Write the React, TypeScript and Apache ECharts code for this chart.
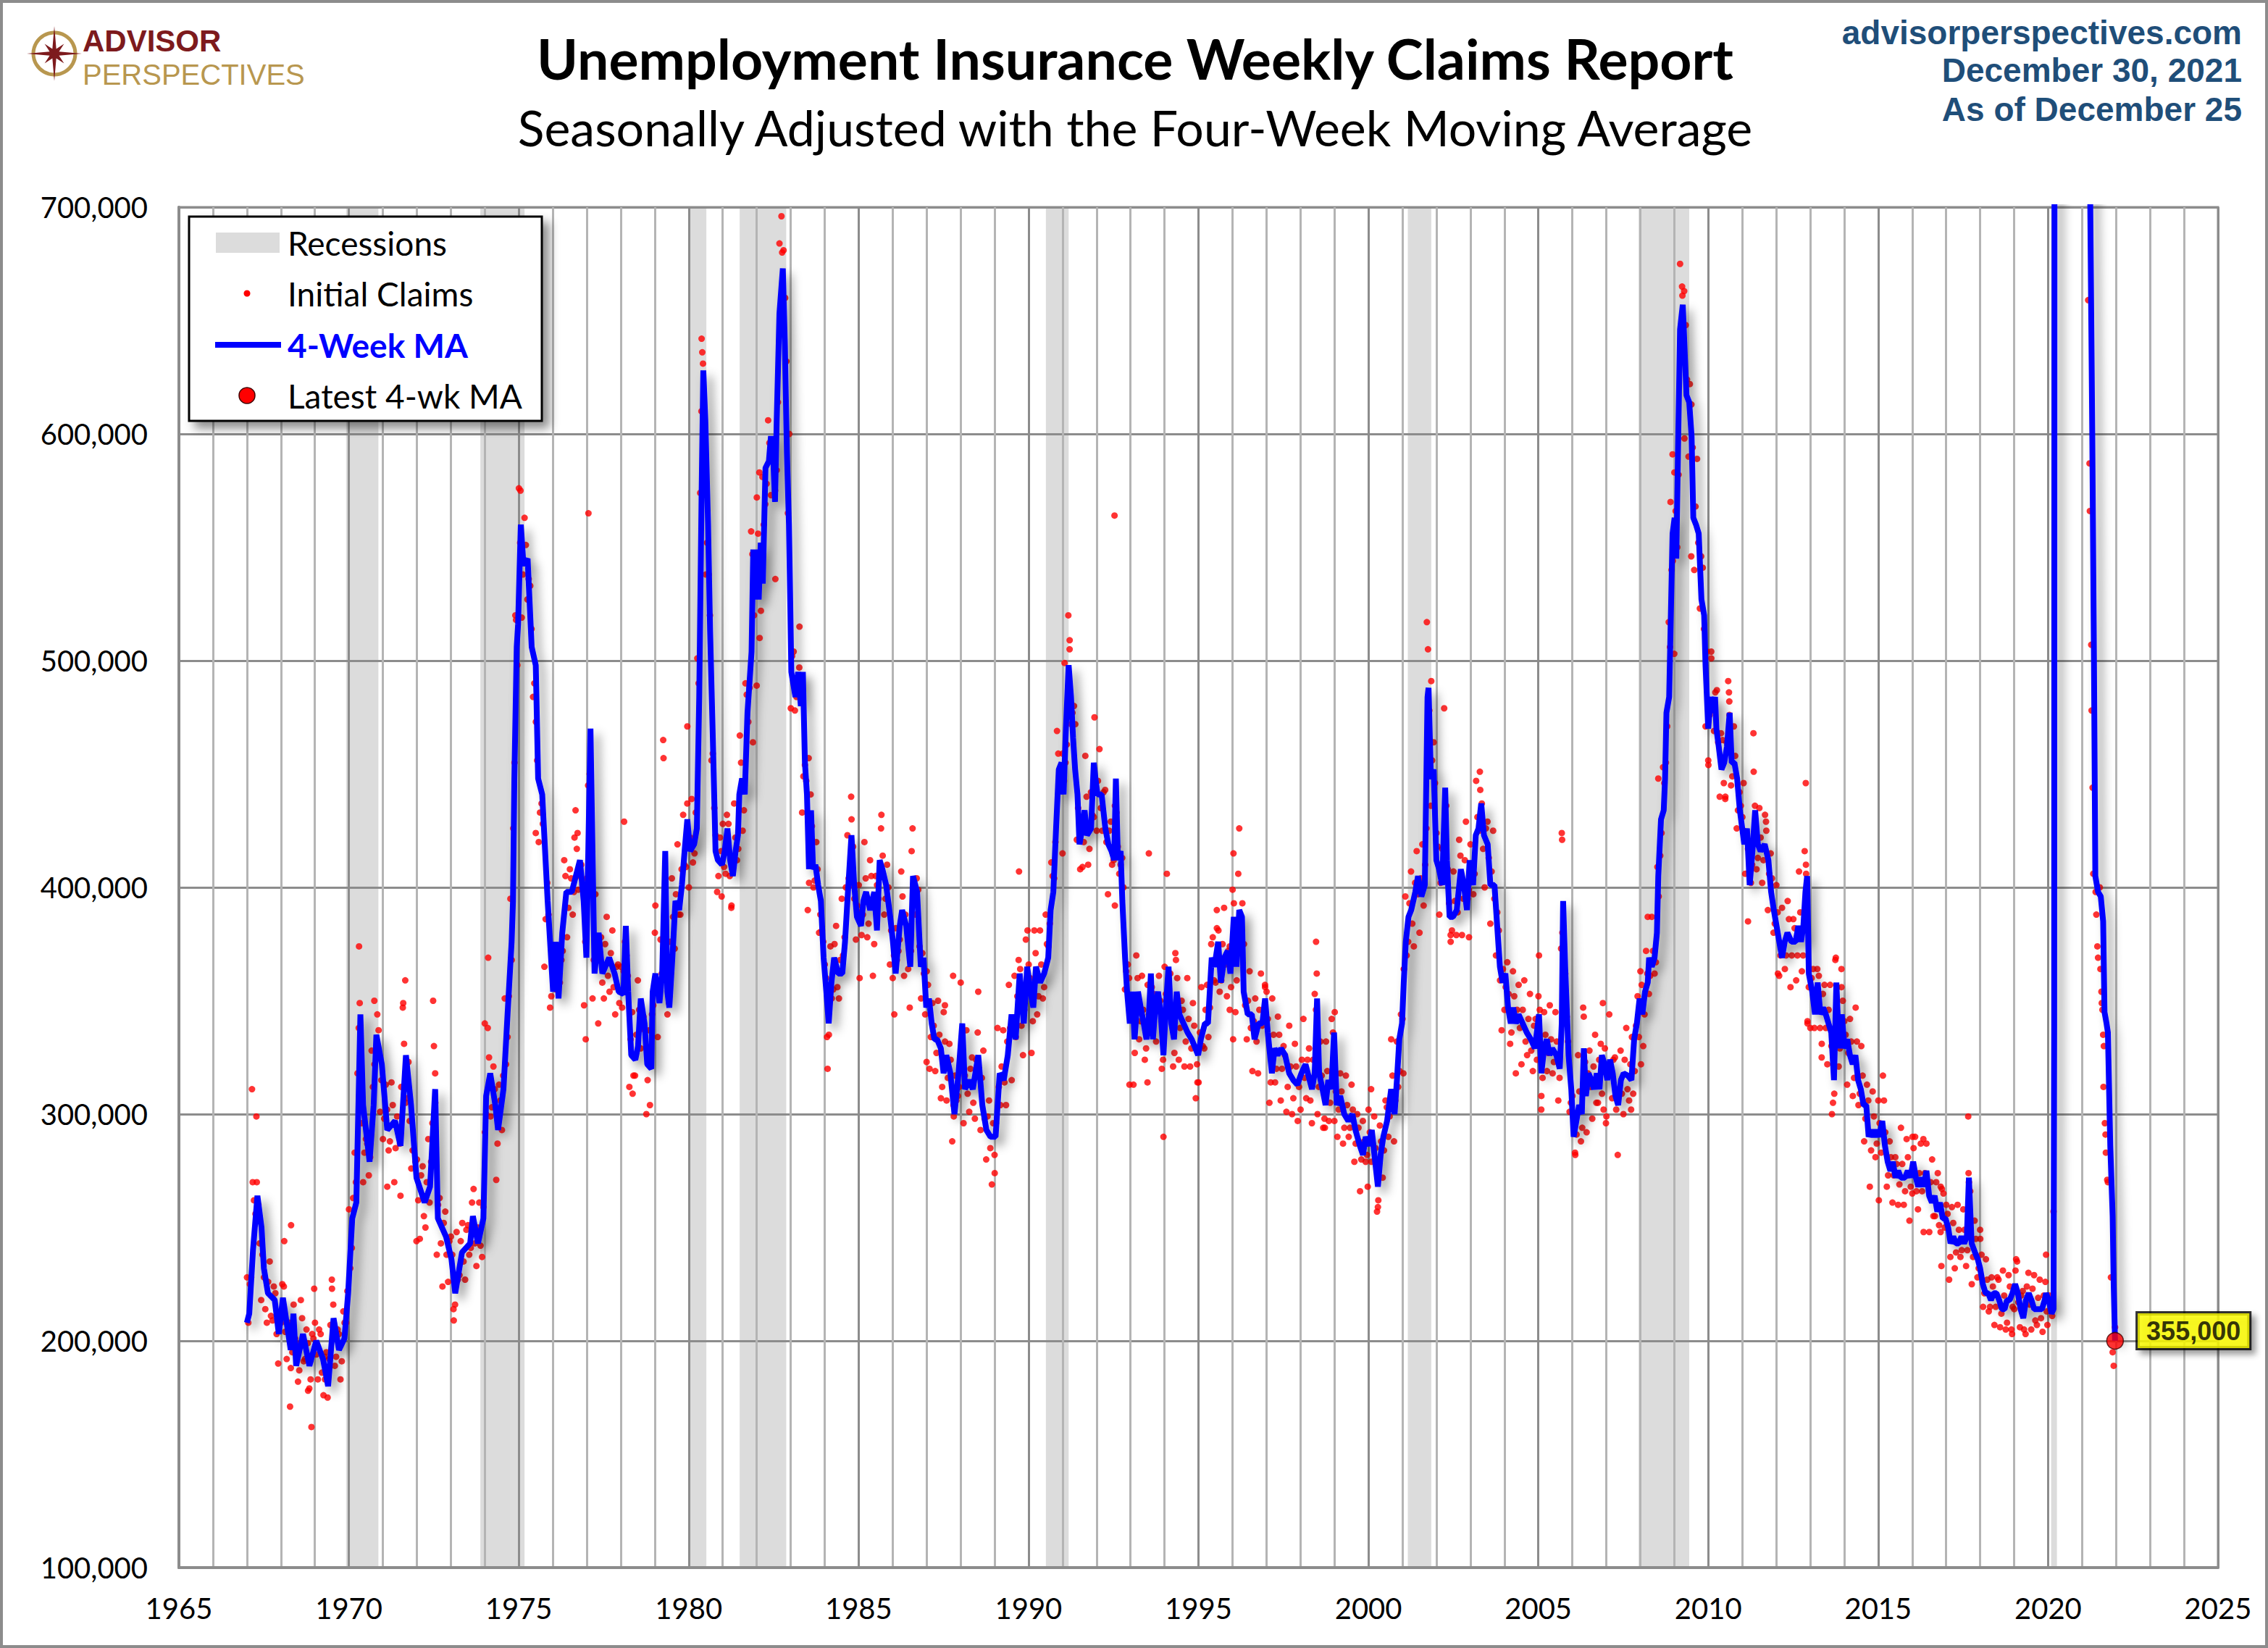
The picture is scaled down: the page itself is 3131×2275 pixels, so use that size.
import React, { useEffect, useRef } from "react";
import * as echarts from "echarts";

const W = 3131;
const H = 2275;

// axes (values in thousands)
const X_MIN = 1965;
const X_MAX = 2025;
const X_STEP = 5;
const Y_MIN = 100;
const Y_MAX = 700;
const Y_STEP = 100;

const TITLE = "Unemployment Insurance Weekly Claims Report";
const SUBTITLE = "Seasonally Adjusted with the Four-Week Moving Average";
const SOURCE_LINES = ["advisorperspectives.com", "December 30, 2021", "As of December 25"];
const LEGEND_LABELS = ["Recessions", "Initial Claims", "4-Week MA", "Latest 4-wk MA"];
const LATEST_LABEL = "355,000";

const RECESSIONS: [number, number][] = [
  [1969.92, 1970.87], [1973.87, 1975.17], [1980.0, 1980.52], [1981.5, 1982.87],
  [1990.51, 1991.18], [2001.16, 2001.85], [2007.95, 2009.44], [2020.09, 2020.26],
];

// 4-week moving average, [decimal year, thousands]
const MA_1960S: [number, number][] = [
  [1967.0, 208], [1967.07, 212], [1967.18, 240], [1967.31, 264], [1967.43, 250], [1967.5, 232], [1967.62, 221],
  [1967.82, 218], [1967.94, 203], [1968.06, 219], [1968.29, 196], [1968.37, 212], [1968.45, 189], [1968.65, 203],
  [1968.84, 189], [1969.04, 200], [1969.24, 192], [1969.39, 180], [1969.55, 210], [1969.71, 196], [1969.87, 201],
  [1969.98, 221],
];
const MA_1970S: [number, number][] = [
  [1970.1, 254], [1970.22, 261], [1970.34, 344], [1970.42, 304], [1970.61, 279], [1970.73, 304], [1970.81, 335],
  [1970.97, 322], [1971.13, 293], [1971.36, 297], [1971.52, 286], [1971.68, 326], [1971.83, 304], [1971.99, 272],
  [1972.23, 261], [1972.39, 268], [1972.54, 311], [1972.62, 254], [1972.86, 246], [1973.02, 236], [1973.13, 221],
  [1973.33, 239], [1973.57, 243], [1973.65, 255], [1973.8, 243], [1973.96, 254], [1974.04, 308], [1974.16, 318],
  [1974.31, 304], [1974.39, 293], [1974.55, 311], [1974.67, 344], [1974.79, 376], [1974.83, 394], [1974.87, 448],
  [1974.94, 506], [1974.98, 516], [1975.06, 560], [1975.14, 542], [1975.26, 545], [1975.38, 506], [1975.5, 498],
  [1975.57, 448], [1975.69, 441], [1975.85, 394], [1976.01, 354], [1976.09, 376], [1976.17, 351], [1976.28, 380],
  [1976.4, 398], [1976.56, 398], [1976.8, 412], [1976.91, 394], [1976.99, 369], [1977.11, 470], [1977.23, 362],
  [1977.35, 380], [1977.46, 362], [1977.66, 369], [1977.82, 362], [1977.94, 354], [1978.08, 353], [1978.15, 383],
  [1978.22, 354], [1978.31, 326], [1978.43, 324], [1978.51, 330], [1978.59, 351], [1978.7, 340], [1978.78, 322],
  [1978.9, 320], [1978.94, 354], [1979.02, 362], [1979.14, 349], [1979.22, 362], [1979.31, 416], [1979.37, 354],
  [1979.43, 347], [1979.52, 369], [1979.61, 394], [1979.72, 390], [1979.8, 401], [1979.88, 416], [1979.96, 430],
];
const MA_1980S: [number, number][] = [
  [1980.04, 416], [1980.16, 419], [1980.24, 426], [1980.31, 484], [1980.38, 574], [1980.43, 628], [1980.49, 606],
  [1980.57, 560], [1980.63, 513], [1980.71, 466], [1980.79, 416], [1980.86, 412], [1980.98, 410], [1981.06, 416],
  [1981.14, 426], [1981.22, 412], [1981.3, 405], [1981.38, 416], [1981.45, 423], [1981.49, 441], [1981.57, 448],
  [1981.65, 441], [1981.73, 477], [1981.81, 495], [1981.85, 504], [1981.9, 549], [1981.95, 527], [1982.0, 549],
  [1982.06, 527], [1982.12, 552], [1982.18, 534], [1982.26, 585], [1982.36, 588], [1982.42, 599], [1982.48, 592],
  [1982.54, 570], [1982.59, 606], [1982.67, 653], [1982.77, 673], [1982.83, 639], [1982.89, 592], [1982.95, 560],
  [1982.99, 524], [1983.02, 495], [1983.14, 484], [1983.22, 495], [1983.3, 480], [1983.36, 495], [1983.42, 455],
  [1983.48, 441], [1983.54, 408], [1983.6, 434], [1983.66, 408], [1983.73, 410], [1983.81, 401], [1983.89, 394],
  [1983.97, 369], [1984.05, 354], [1984.12, 340], [1984.2, 358], [1984.28, 369], [1984.4, 362], [1984.52, 362],
  [1984.6, 376], [1984.67, 394], [1984.79, 423], [1984.87, 401], [1984.95, 387], [1985.07, 383], [1985.14, 394],
  [1985.22, 398], [1985.34, 390], [1985.46, 398], [1985.54, 381], [1985.62, 412], [1985.7, 408], [1985.81, 401],
  [1985.93, 387], [1986.01, 376], [1986.09, 362], [1986.21, 383], [1986.28, 390], [1986.4, 383], [1986.52, 365],
  [1986.6, 405], [1986.72, 398], [1986.83, 365], [1986.91, 369], [1986.99, 347], [1987.07, 351], [1987.15, 340],
  [1987.23, 333], [1987.31, 333], [1987.42, 329], [1987.5, 318], [1987.58, 326], [1987.7, 318], [1987.82, 300],
  [1987.94, 318], [1988.05, 340], [1988.13, 311], [1988.25, 315], [1988.36, 311], [1988.52, 326], [1988.64, 304],
  [1988.76, 293], [1988.88, 290], [1989.03, 290], [1989.15, 318], [1989.27, 315], [1989.39, 326], [1989.5, 344],
  [1989.62, 333], [1989.74, 362], [1989.86, 340], [1989.96, 365],
];
const MA_1990S: [number, number][] = [
  [1990.06, 354], [1990.14, 347], [1990.22, 365], [1990.34, 358], [1990.46, 362], [1990.58, 369], [1990.65, 390],
  [1990.73, 398], [1990.81, 426], [1990.89, 452], [1990.97, 455], [1991.03, 441], [1991.1, 470], [1991.18, 498],
  [1991.25, 484], [1991.31, 466], [1991.37, 452], [1991.44, 441], [1991.5, 419], [1991.58, 426], [1991.65, 434],
  [1991.72, 423], [1991.84, 426], [1991.92, 455], [1991.97, 448], [1992.03, 441], [1992.15, 441], [1992.26, 426],
  [1992.35, 419], [1992.44, 416], [1992.52, 412], [1992.57, 448], [1992.63, 412], [1992.71, 416], [1992.76, 394],
  [1992.84, 369], [1992.9, 354], [1992.98, 340], [1993.06, 354], [1993.12, 333], [1993.22, 354], [1993.3, 347],
  [1993.39, 340], [1993.47, 333], [1993.53, 340], [1993.6, 362], [1993.66, 333], [1993.73, 347], [1993.81, 354],
  [1993.89, 344], [1993.97, 326], [1994.04, 347], [1994.12, 365], [1994.2, 340], [1994.28, 333], [1994.36, 354],
  [1994.44, 344], [1994.56, 340], [1994.68, 336], [1994.8, 333], [1994.91, 329], [1994.99, 326], [1995.07, 333],
  [1995.19, 340], [1995.28, 340], [1995.39, 369], [1995.47, 365], [1995.58, 376], [1995.66, 358], [1995.76, 369],
  [1995.86, 372], [1995.94, 362], [1996.04, 387], [1996.12, 365], [1996.2, 390], [1996.28, 387], [1996.33, 354],
  [1996.45, 344], [1996.57, 344], [1996.65, 333], [1996.77, 340], [1996.88, 340], [1996.96, 351], [1997.04, 336],
  [1997.16, 318], [1997.24, 329], [1997.33, 326], [1997.43, 329], [1997.55, 326], [1997.67, 318], [1997.79, 315],
  [1997.91, 313], [1998.03, 318], [1998.15, 322], [1998.27, 315], [1998.34, 311], [1998.42, 318], [1998.49, 351],
  [1998.55, 318], [1998.65, 311], [1998.74, 304], [1998.82, 315], [1998.91, 311], [1998.99, 336], [1999.07, 304],
  [1999.17, 308], [1999.29, 300], [1999.41, 297], [1999.53, 300], [1999.62, 293], [1999.75, 286], [1999.84, 282],
  [1999.92, 290],
];
const MA_2000S: [number, number][] = [
  [2000.02, 286], [2000.1, 293], [2000.2, 279], [2000.28, 268], [2000.36, 282], [2000.44, 290], [2000.55, 297],
  [2000.67, 311], [2000.77, 300], [2000.84, 315], [2000.91, 333], [2000.99, 340], [2001.04, 358], [2001.1, 376],
  [2001.18, 387], [2001.26, 390], [2001.38, 398], [2001.46, 405], [2001.56, 396], [2001.66, 401], [2001.74, 484],
  [2001.77, 488], [2001.84, 448], [2001.92, 452], [2002.0, 412], [2002.08, 408], [2002.17, 401], [2002.26, 444],
  [2002.31, 412], [2002.39, 387], [2002.49, 387], [2002.6, 390], [2002.72, 408], [2002.81, 401], [2002.9, 390],
  [2002.98, 412], [2003.08, 401], [2003.16, 423], [2003.24, 426], [2003.32, 437], [2003.4, 423], [2003.51, 419],
  [2003.59, 401], [2003.71, 401], [2003.79, 383], [2003.87, 365], [2003.95, 358], [2004.03, 362], [2004.11, 347],
  [2004.19, 340], [2004.26, 347], [2004.34, 340], [2004.42, 344], [2004.54, 340], [2004.66, 336], [2004.78, 333],
  [2004.9, 329], [2005.02, 344], [2005.09, 318], [2005.17, 329], [2005.25, 333], [2005.33, 326], [2005.41, 329],
  [2005.53, 326], [2005.63, 320], [2005.69, 340], [2005.73, 394], [2005.79, 365], [2005.89, 326], [2005.97, 311],
  [2006.04, 290], [2006.12, 297], [2006.2, 304], [2006.28, 300], [2006.34, 329], [2006.4, 308], [2006.48, 318],
  [2006.56, 315], [2006.64, 311], [2006.72, 318], [2006.8, 311], [2006.87, 326], [2006.95, 322], [2007.03, 315],
  [2007.11, 324], [2007.19, 318], [2007.27, 308], [2007.35, 304], [2007.43, 315], [2007.51, 318], [2007.63, 317],
  [2007.74, 315], [2007.82, 333], [2007.9, 340], [2007.98, 351], [2008.06, 344], [2008.14, 354], [2008.22, 358],
  [2008.26, 369], [2008.34, 365], [2008.42, 369], [2008.49, 380], [2008.53, 405], [2008.61, 430], [2008.69, 434],
  [2008.73, 448], [2008.77, 477], [2008.85, 484], [2008.89, 513], [2008.95, 556], [2009.01, 563], [2009.06, 545],
  [2009.11, 592], [2009.17, 646], [2009.25, 657], [2009.3, 639], [2009.36, 617], [2009.44, 614], [2009.51, 599],
  [2009.56, 563], [2009.64, 560], [2009.72, 556], [2009.8, 527], [2009.88, 520], [2009.92, 498],
];
const MA_2010S: [number, number][] = [
  [2010.0, 470], [2010.07, 484], [2010.14, 477], [2010.2, 484], [2010.24, 470], [2010.31, 462], [2010.39, 452],
  [2010.47, 455], [2010.55, 462], [2010.63, 477], [2010.69, 455], [2010.77, 455], [2010.85, 448], [2010.93, 434],
  [2011.0, 426], [2011.06, 419], [2011.14, 426], [2011.22, 401], [2011.3, 416], [2011.38, 434], [2011.46, 419],
  [2011.54, 416], [2011.66, 419], [2011.77, 412], [2011.85, 398], [2011.93, 390], [2012.01, 383], [2012.09, 376],
  [2012.17, 369], [2012.25, 376], [2012.33, 380], [2012.45, 376], [2012.57, 376], [2012.65, 383], [2012.73, 376],
  [2012.8, 383], [2012.86, 398], [2012.91, 405], [2012.96, 362], [2013.06, 354], [2013.14, 344], [2013.22, 358],
  [2013.3, 344], [2013.38, 347], [2013.46, 344], [2013.54, 340], [2013.62, 336], [2013.7, 315], [2013.77, 358],
  [2013.85, 329], [2013.93, 344], [2014.01, 329], [2014.09, 333], [2014.17, 326], [2014.25, 322], [2014.33, 326],
  [2014.41, 315], [2014.49, 311], [2014.57, 304], [2014.65, 304], [2014.72, 290], [2014.8, 293], [2014.88, 290],
  [2014.96, 293], [2015.04, 290], [2015.12, 297], [2015.2, 286], [2015.28, 279], [2015.36, 275], [2015.43, 279],
  [2015.51, 272], [2015.59, 275], [2015.67, 272], [2015.79, 272], [2015.87, 275], [2015.95, 272], [2016.03, 279],
  [2016.11, 272], [2016.18, 268], [2016.26, 272], [2016.34, 268], [2016.42, 275], [2016.5, 264], [2016.58, 261],
  [2016.66, 264], [2016.74, 257], [2016.82, 261], [2016.9, 254], [2016.98, 254], [2017.06, 250], [2017.13, 243],
  [2017.21, 246], [2017.29, 243], [2017.37, 243], [2017.45, 246], [2017.53, 243], [2017.61, 246], [2017.67, 272],
  [2017.75, 243], [2017.85, 239], [2017.93, 236], [2018.0, 232], [2018.08, 225], [2018.16, 221], [2018.24, 221],
  [2018.32, 218], [2018.4, 221], [2018.48, 221], [2018.56, 218], [2018.64, 214], [2018.72, 214], [2018.79, 218],
  [2018.87, 218], [2018.95, 221], [2019.03, 225], [2019.11, 221], [2019.19, 214], [2019.27, 210], [2019.35, 218],
  [2019.43, 221], [2019.51, 218], [2019.59, 214], [2019.67, 214], [2019.74, 214], [2019.82, 214], [2019.9, 218],
  [2019.94, 221],
];
const MA_2020S: [number, number][] = [
  [2020.02, 218], [2020.1, 212], [2020.16, 214], [2020.18, 340], [2020.21, 1800], [2020.25, 4250], [2020.4, 2500],
  [2020.6, 1300], [2020.8, 800], [2021.0, 850], [2021.15, 760], [2021.23, 720], [2021.3, 600], [2021.35, 500],
  [2021.39, 405], [2021.47, 398], [2021.55, 396], [2021.62, 385], [2021.66, 345], [2021.72, 340], [2021.76, 336],
  [2021.83, 286], [2021.9, 255], [2021.93, 225], [2021.97, 200],
];
const LATEST: [number, number] = [2021.97, 200];

// initial claims, mid-month readings: [year, 12 readings in thousands]
const CLAIMS_1960S: [number, number[]][] = [
  [1967, [208, 228, 262, 270, 243, 238, 214, 226, 211, 224, 203, 212]],
  [1968, [225, 204, 207, 188, 216, 199, 187, 210, 192, 199, 183, 201]],
  [1969, [194, 205, 186, 193, 175, 207, 216, 193, 203, 191, 208, 222]],
];
const CLAIMS_1970S: [number, number[]][] = [
  [1970, [232, 263, 270, 338, 296, 283, 287, 281, 312, 328, 337, 315]],
  [1971, [298, 302, 288, 304, 285, 293, 312, 331, 307, 297, 284, 279]],
  [1972, [262, 273, 255, 270, 261, 296, 305, 260, 243, 252, 238, 244]],
  [1973, [238, 216, 227, 244, 235, 249, 238, 261, 243, 250, 242, 259]],
  [1974, [300, 325, 303, 311, 287, 306, 317, 322, 352, 368, 455, 498]],
  [1975, [552, 538, 551, 536, 514, 490, 456, 433, 428, 386, 388, 352]],
  [1976, [362, 364, 358, 372, 405, 391, 404, 398, 417, 405, 401, 376]],
  [1977, [445, 410, 368, 374, 369, 358, 375, 361, 371, 356, 365, 349]],
  [1978, [347, 376, 361, 333, 317, 335, 346, 338, 337, 315, 327, 348]],
  [1979, [356, 355, 362, 372, 344, 376, 387, 397, 388, 408, 410, 437]],
];
const CLAIMS_1980S: [number, number[]][] = [
  [1980, [422, 411, 433, 490, 610, 598, 552, 520, 459, 423, 405, 416]],
  [1981, [409, 432, 405, 412, 422, 417, 455, 434, 485, 488, 547, 538]],
  [1982, [556, 522, 560, 578, 596, 591, 575, 614, 645, 681, 632, 600]],
  [1983, [502, 478, 489, 487, 449, 447, 402, 427, 403, 408, 388, 376]],
  [1984, [360, 335, 351, 375, 356, 368, 370, 400, 404, 430, 395, 392]],
  [1985, [389, 388, 404, 384, 405, 375, 401, 405, 414, 395, 400, 381]],
  [1986, [370, 368, 377, 396, 388, 364, 372, 398, 404, 374, 371, 344]],
  [1987, [357, 334, 339, 327, 335, 312, 332, 316, 324, 304, 306, 312]],
  [1988, [334, 317, 309, 320, 305, 324, 320, 316, 298, 299, 285, 296]],
  [1989, [296, 312, 321, 314, 332, 338, 339, 334, 368, 339, 346, 359]],
];
const CLAIMS_1990S: [number, number[]][] = [
  [1990, [360, 341, 371, 352, 366, 356, 375, 384, 405, 420, 459, 448]],
  [1991, [447, 463, 505, 477, 472, 435, 425, 420, 440, 417, 432, 446]],
  [1992, [447, 435, 442, 420, 425, 410, 436, 418, 410, 400, 363, 360]],
  [1993, [346, 327, 360, 341, 346, 329, 344, 356, 346, 348, 350, 324]],
  [1994, [353, 359, 346, 327, 360, 338, 346, 332, 342, 329, 339, 322]],
  [1995, [336, 330, 346, 334, 375, 359, 382, 354, 375, 366, 372, 356]],
  [1996, [393, 359, 384, 393, 348, 350, 338, 341, 332, 346, 339, 357]],
  [1997, [342, 314, 335, 320, 335, 320, 326, 312, 321, 307, 321, 312]],
  [1998, [324, 316, 324, 306, 324, 346, 312, 317, 298, 319, 305, 336]],
  [1999, [310, 302, 310, 294, 304, 294, 302, 287, 294, 280, 288, 282]],
];
const CLAIMS_2000S: [number, number[]][] = [
  [2000, [292, 287, 285, 262, 288, 284, 303, 299, 317, 306, 312, 344]],
  [2001, [364, 370, 393, 384, 402, 397, 404, 392, 426, 478, 456, 446]],
  [2002, [418, 402, 407, 436, 393, 381, 394, 389, 414, 395, 401, 399]],
  [2003, [407, 406, 431, 443, 417, 426, 413, 407, 395, 389, 359, 364]],
  [2004, [356, 353, 336, 352, 346, 338, 346, 332, 342, 328, 339, 324]],
  [2005, [346, 316, 335, 327, 333, 323, 332, 316, 380, 362, 332, 305]],
  [2006, [296, 291, 310, 294, 323, 318, 312, 321, 305, 324, 309, 329]],
  [2007, [321, 318, 324, 302, 310, 309, 324, 311, 322, 309, 339, 334]],
  [2008, [357, 344, 362, 361, 372, 367, 396, 424, 446, 471, 506, 544]],
  [2009, [566, 582, 640, 663, 624, 622, 594, 568, 552, 546, 514, 504]],
];
const CLAIMS_2010S: [number, number[]][] = [
  [2010, [476, 478, 486, 464, 468, 446, 464, 476, 449, 458, 434, 436]],
  [2011, [425, 420, 407, 410, 436, 413, 422, 412, 425, 406, 404, 384]],
  [2012, [389, 370, 375, 370, 386, 370, 382, 370, 389, 370, 410, 356]],
  [2013, [360, 338, 364, 338, 353, 338, 346, 330, 309, 356, 329, 350]],
  [2014, [335, 327, 332, 316, 332, 309, 317, 298, 306, 284, 299, 287]],
  [2015, [296, 291, 292, 273, 281, 273, 278, 269, 278, 266, 281, 268]],
  [2016, [285, 266, 274, 266, 274, 269, 270, 255, 270, 251, 267, 250]],
  [2017, [256, 237, 252, 239, 249, 240, 249, 240, 266, 237, 245, 232]],
  [2018, [238, 221, 227, 215, 224, 215, 227, 212, 220, 208, 224, 215]],
  [2019, [231, 217, 220, 205, 224, 216, 223, 209, 219, 210, 220, 213]],
];
// initial claims, start-of-month readings: [year, 12 readings in thousands]
const CLAIMS_B_1960S: [number, number[]][] = [
  [1967, [228, 225, 270, 256, 260, 218, 228, 208, 235, 209, 221, 190]],
  [1968, [208, 224, 192, 208, 195, 201, 182, 218, 191, 205, 179, 203]],
  [1969, [208, 183, 203, 176, 195, 192, 223, 189, 205, 183, 213, 208]],
];
const CLAIMS_B_1970S: [number, number[]][] = [
  [1970, [258, 241, 283, 318, 318, 270, 289, 273, 328, 322, 344, 301]],
  [1971, [289, 313, 284, 314, 270, 299, 287, 347, 305, 323, 276, 284]],
  [1972, [280, 245, 277, 250, 289, 279, 330, 238, 263, 224, 257, 226]],
  [1973, [246, 209, 248, 229, 252, 227, 251, 241, 267, 233, 261, 237]],
  [1974, [292, 338, 299, 321, 271, 313, 293, 351, 334, 395, 426, 518]],
  [1975, [576, 519, 563, 527, 533, 484, 473, 420, 437, 365, 402, 347]],
  [1976, [372, 355, 373, 368, 412, 378, 408, 388, 434, 399, 410, 348]],
  [1977, [404, 450, 351, 397, 340, 378, 351, 387, 354, 381, 344, 366]],
  [1978, [365, 363, 370, 312, 345, 317, 359, 329, 343, 300, 337, 344]],
  [1979, [380, 334, 377, 368, 364, 349, 404, 373, 419, 388, 432, 409]],
];
const CLAIMS_B_1980S: [number, number[]][] = [
  [1980, [400, 439, 415, 501, 574, 631, 538, 538, 456, 435, 398, 422]],
  [1981, [428, 406, 428, 391, 437, 412, 467, 425, 490, 473, 557, 520]],
  [1982, [572, 510, 581, 569, 606, 573, 593, 584, 684, 656, 660, 565]],
  [1983, [479, 504, 484, 497, 433, 454, 390, 441, 400, 420, 380, 381]],
  [1984, [366, 320, 374, 355, 383, 351, 395, 378, 423, 401, 418, 377]],
  [1985, [401, 379, 420, 378, 412, 361, 405, 395, 432, 388, 410, 366]],
  [1986, [360, 382, 372, 407, 361, 383, 347, 426, 388, 399, 351, 362]],
  [1987, [363, 320, 349, 319, 350, 307, 345, 306, 331, 288, 317, 308]],
  [1988, [358, 296, 337, 301, 325, 298, 336, 293, 328, 280, 306, 269]],
  [1989, [274, 338, 304, 337, 304, 357, 315, 361, 352, 364, 326, 377]],
];
const CLAIMS_B_1990S: [number, number[]][] = [
  [1990, [366, 327, 381, 344, 381, 351, 388, 374, 411, 404, 469, 445]],
  [1991, [459, 455, 520, 472, 480, 421, 429, 409, 458, 410, 442, 431]],
  [1992, [425, 461, 425, 443, 397, 429, 412, 433, 406, 413, 355, 366]],
  [1993, [352, 313, 370, 333, 361, 324, 357, 346, 353, 332, 361, 320]],
  [1994, [365, 350, 362, 321, 368, 324, 350, 321, 360, 321, 349, 307]],
  [1995, [314, 356, 329, 357, 347, 378, 358, 381, 359, 391, 352, 374]],
  [1996, [399, 345, 406, 373, 375, 333, 363, 319, 351, 318, 362, 341]],
  [1997, [354, 305, 351, 314, 343, 306, 330, 301, 339, 300, 331, 297]],
  [1998, [302, 342, 307, 329, 296, 353, 300, 332, 294, 332, 297, 342]],
  [1999, [315, 290, 318, 287, 317, 290, 313, 279, 300, 266, 297, 279]],
];
const CLAIMS_B_2000S: [number, number[]][] = [
  [2000, [302, 279, 299, 257, 295, 272, 306, 290, 333, 288, 332, 319]],
  [2001, [342, 396, 376, 407, 374, 416, 380, 419, 410, 505, 436, 464]],
  [2002, [424, 388, 417, 416, 408, 376, 407, 379, 421, 379, 412, 395]],
  [2003, [419, 397, 447, 425, 437, 400, 429, 384, 425, 370, 381, 337]],
  [2004, [346, 367, 331, 363, 318, 357, 322, 359, 326, 353, 319, 342]],
  [2005, [352, 302, 345, 319, 348, 318, 345, 306, 373, 348, 343, 301]],
  [2006, [308, 282, 326, 288, 343, 292, 328, 298, 335, 305, 331, 302]],
  [2007, [299, 344, 307, 325, 282, 328, 300, 338, 306, 334, 319, 352]],
  [2008, [363, 330, 372, 353, 387, 362, 409, 414, 453, 455, 517, 540]],
  [2009, [583, 550, 675, 641, 648, 590, 613, 540, 589, 523, 541, 471]],
];
const CLAIMS_B_2010S: [number, number[]][] = [
  [2010, [454, 504, 469, 487, 440, 465, 440, 491, 445, 471, 426, 442]],
  [2011, [431, 406, 417, 402, 451, 408, 435, 402, 432, 390, 415, 380]],
  [2012, [401, 361, 391, 364, 394, 356, 386, 359, 407, 363, 416, 341]],
  [2013, [338, 364, 347, 361, 325, 357, 322, 357, 305, 369, 321, 356]],
  [2014, [341, 313, 342, 308, 347, 304, 330, 288, 313, 268, 310, 281]],
  [2015, [306, 283, 306, 268, 288, 261, 281, 260, 294, 260, 289, 253]],
  [2016, [265, 290, 258, 287, 248, 287, 248, 280, 255, 274, 248, 265]],
  [2017, [260, 227, 259, 232, 260, 237, 258, 233, 270, 225, 253, 228]],
  [2018, [245, 215, 236, 213, 228, 207, 228, 206, 231, 205, 229, 205]],
  [2019, [214, 235, 206, 222, 203, 230, 205, 229, 207, 227, 204, 226]],
];
// individual readings (outliers and 2020-2021)
const CLAIMS_EXTRA: [number, number][] = [
  [1967.15, 311], [1967.28, 299], [1968.1, 244], [1968.3, 251], [1968.27, 171], [1968.8, 178], [1968.9, 162],
  [1968.98, 223], [1969.5, 227], [1969.3, 183], [1970.3, 374], [1970.32, 349], [1970.75, 350], [1971.6, 349],
  [1971.66, 359], [1972.48, 350], [1972.54, 318], [1971.13, 268], [1971.52, 264], [1971.99, 244], [1973.08, 214],
  [1974.1, 369], [1974.0, 340], [1975.05, 575], [1974.9, 520], [1975.5, 424], [1976.64, 422], [1976.73, 424],
  [1976.97, 333], [1978.1, 429], [1977.05, 565], [1979.25, 465], [1979.26, 457], [1979.02, 392], [1978.86, 304],
  [1978.35, 309], [1980.38, 642], [1980.4, 636], [1979.96, 471], [1980.97, 396], [1981.26, 392], [1982.73, 696],
  [1982.75, 680], [1982.55, 536], [1982.08, 583], [1983.26, 515], [1981.89, 464], [1982.0, 489], [1983.53, 457],
  [1984.78, 440], [1985.66, 426], [1986.56, 416], [1986.05, 344], [1985.03, 360], [1984.07, 334], [1987.78, 361],
  [1988.52, 354], [1989.72, 407], [1987.8, 299], [1989.0, 282], [1987.0, 323], [1987.54, 348], [1989.97, 381],
  [1991.21, 509], [1991.06, 499], [1991.0, 415], [1991.94, 475], [1991.52, 408], [1992.53, 564], [1992.54, 392],
  [1993.54, 415], [1994.07, 406], [1994.32, 371], [1992.97, 313], [1993.5, 314], [1993.97, 290], [1994.97, 314],
  [1995.54, 390], [1996.03, 415], [1996.2, 426], [1995.92, 346], [1996.02, 333], [1996.96, 356], [1998.46, 376],
  [1998.48, 362], [1999.01, 345], [1998.72, 294], [1999.0, 297], [2000.08, 311], [2000.28, 259], [1999.98, 268],
  [2001.03, 318], [2001.05, 364], [2001.72, 517], [2001.85, 491], [2002.23, 479], [2003.28, 451], [2002.87, 429],
  [2002.42, 379], [2002.96, 378], [2005.69, 424], [2005.7, 421], [2005.02, 370], [2006.32, 347], [2006.9, 349],
  [2005.09, 308], [2006.08, 283], [2006.99, 296], [2007.73, 302], [2008.02, 322], [2008.22, 387], [2008.53, 448],
  [2009.0, 503], [2008.89, 570], [2008.95, 591], [2009.23, 665], [2009.24, 661], [2009.5, 546], [2009.3, 598],
  [2010.09, 501], [2010.61, 486], [2010.62, 482], [2010.0, 456], [2010.5, 439], [2011.04, 446], [2011.33, 468],
  [2011.17, 385], [2011.7, 429], [2012.05, 362], [2012.87, 446], [2012.88, 406], [2012.92, 340], [2013.34, 331],
  [2013.74, 368], [2013.92, 364], [2013.64, 300], [2015.14, 317], [2015.02, 262], [2016.01, 290], [2016.33, 289],
  [2016.84, 268], [2016.86, 233], [2017.65, 299], [2017.66, 274], [2018.0, 249], [2019.06, 236], [2018.94, 203],
  [2019.94, 238], [2019.98, 207],
  [2020.04, 220], [2020.12, 211], [2020.16, 257], [2020.2, 3300],
  [2021.18, 659], [2021.22, 587], [2021.23, 566], [2021.27, 507], [2021.28, 478], [2021.31, 444], [2021.33, 406],
  [2021.4, 398], [2021.42, 388], [2021.45, 374], [2021.47, 369], [2021.52, 400], [2021.54, 364], [2021.57, 354],
  [2021.58, 349], [2021.6, 346], [2021.62, 335], [2021.64, 330], [2021.63, 312], [2021.67, 296], [2021.69, 291],
  [2021.7, 283], [2021.74, 271], [2021.76, 270], [2021.85, 228], [2021.97, 206], [2021.9, 195], [2021.93, 189],
];

const BLUE = "#0000ff";
const RED = "#ff0000";
const GRID_DARK = "#8c8c8c";
const GRID_LIGHT = "#b4b4b4";
const REC_FILL = "#dcdcdc";
const NAVY = "#1f4e79";
const FONT = "Lato, 'Noto Sans', sans-serif";
const ARIAL = "'Liberation Sans', Arial, sans-serif";

function monthly(rows: [number, number[]][], offset: number): [number, number][] {
  const out: [number, number][] = [];
  rows.forEach(([yr, vals]) => vals.forEach((v, i) => out.push([yr + (i + offset) / 12, v])));
  return out;
}

function starPoints(cx: number, cy: number): number[][] {
  const pts: number[][] = [];
  for (let k = 0; k < 8; k++) {
    const a = (k * 45 - 90) * (Math.PI / 180);
    const r = k % 2 === 0 ? 38 : 19;
    pts.push([cx + r * Math.cos(a), cy + r * Math.sin(a)]);
    const b = a + (22.5 * Math.PI) / 180;
    pts.push([cx + 7 * Math.cos(b), cy + 7 * Math.sin(b)]);
  }
  return pts;
}

function buildOption() {
  const ma = [...MA_1960S, ...MA_1970S, ...MA_1980S, ...MA_1990S, ...MA_2000S, ...MA_2010S, ...MA_2020S];
  const mid = [CLAIMS_1960S, CLAIMS_1970S, CLAIMS_1980S, CLAIMS_1990S, CLAIMS_2000S, CLAIMS_2010S];
  const start = [CLAIMS_B_1960S, CLAIMS_B_1970S, CLAIMS_B_1980S, CLAIMS_B_1990S, CLAIMS_B_2000S, CLAIMS_B_2010S];
  const claims: [number, number][] = [];
  mid.forEach((rows) => claims.push(...monthly(rows, 0.5)));
  start.forEach((rows) => claims.push(...monthly(rows, 0.05)));
  claims.push(...CLAIMS_EXTRA);

  const legendX = 261, legendY = 299, legendW = 487, legendH = 282;
  const rowY = [335, 405, 476, 546];
  const iconX = 341, textX = 397;

  const graphic: any[] = [
    { type: "rect", z: 100, silent: true, shape: { x: 2, y: 2, width: W - 4, height: H - 4 },
      style: { fill: "none", stroke: GRID_DARK, lineWidth: 4 } },
    // logo
    { type: "circle", z: 100, shape: { cx: 75, cy: 74, r: 29 }, style: { fill: "none", stroke: "#b8974f", lineWidth: 5 } },
    { type: "polygon", z: 101, shape: { points: starPoints(75, 74) }, style: { fill: "#7d1a1d" } },
    { type: "text", z: 100, x: 114, y: 56, style: { text: "ADVISOR", fontFamily: ARIAL, fontWeight: "bold", fontSize: 42,
      fill: "#7d1a1d", align: "left", verticalAlign: "middle" } },
    { type: "text", z: 100, x: 114, y: 103, style: { text: "PERSPECTIVES", fontFamily: ARIAL, fontWeight: "normal",
      fontSize: 40, fill: "#b8974f", align: "left", verticalAlign: "middle" } },
    // titles
    { type: "text", z: 100, x: 1567, y: 80, style: { text: TITLE, fontFamily: FONT, fontWeight: "bold", fontSize: 77,
      fill: "#000", align: "center", verticalAlign: "middle" } },
    { type: "text", z: 100, x: 1567, y: 175, style: { text: SUBTITLE, fontFamily: FONT, fontWeight: "normal", fontSize: 68,
      fill: "#000", align: "center", verticalAlign: "middle" } },
    ...SOURCE_LINES.map((t, i) => ({ type: "text", z: 100, x: 3095, y: [45, 97, 151][i],
      style: { text: t, fontFamily: ARIAL, fontWeight: "bold", fontSize: 46, fill: NAVY, align: "right", verticalAlign: "middle" } })),
    // legend
    { type: "rect", z: 100, shape: { x: legendX, y: legendY, width: legendW, height: legendH },
      style: { fill: "#fff", stroke: "#000", lineWidth: 3, shadowBlur: 14, shadowOffsetX: 9, shadowOffsetY: 9,
        shadowColor: "rgba(0,0,0,0.45)" } },
    { type: "rect", z: 101, shape: { x: 298, y: rowY[0] - 14, width: 88, height: 28 }, style: { fill: REC_FILL } },
    { type: "circle", z: 101, shape: { cx: iconX, cy: rowY[1], r: 4.5 }, style: { fill: RED } },
    { type: "line", z: 101, shape: { x1: 297, y1: rowY[2], x2: 388, y2: rowY[2] }, style: { stroke: BLUE, lineWidth: 8 } },
    { type: "circle", z: 101, shape: { cx: iconX, cy: rowY[3], r: 11 }, style: { fill: RED, stroke: "#400000", lineWidth: 1.5 } },
    ...LEGEND_LABELS.map((t, i) => ({ type: "text", z: 101, x: textX, y: rowY[i],
      style: { text: t, fontFamily: FONT, fontSize: 46, fontWeight: i === 2 ? "bold" : "normal",
        fill: i === 2 ? BLUE : "#000", align: "left", verticalAlign: "middle" } })),
  ];

  return {
    animation: false,
    backgroundColor: "#ffffff",
    grid: { left: 247, right: 69, top: 286, bottom: 111, show: true, borderColor: GRID_DARK, borderWidth: 3,
      backgroundColor: "transparent" },
    xAxis: {
      type: "value", min: X_MIN, max: X_MAX, interval: X_STEP,
      axisLine: { show: true, lineStyle: { color: GRID_DARK, width: 4 } },
      axisTick: { show: false },
      minorTick: { show: false, splitNumber: 5 },
      splitLine: { show: true, lineStyle: { color: GRID_DARK, width: 3 } },
      minorSplitLine: { show: true, lineStyle: { color: GRID_LIGHT, width: 3 } },
      axisLabel: { formatter: (v: number) => String(v), fontFamily: FONT, fontSize: 40, color: "#000", margin: 36 },
    },
    yAxis: {
      type: "value", min: Y_MIN, max: Y_MAX, interval: Y_STEP,
      axisLine: { show: true, lineStyle: { color: GRID_DARK, width: 4 } },
      axisTick: { show: false },
      splitLine: { show: true, lineStyle: { color: GRID_DARK, width: 3 } },
      axisLabel: { formatter: (v: number) => (v * 1000).toLocaleString("en-US"), fontFamily: FONT, fontSize: 40,
        color: "#000", margin: 43 },
    },
    graphic,
    series: [
      {
        name: "Recessions", type: "custom", z: -1, silent: true,
        data: RECESSIONS.map(([a, b]) => [a, b, Y_MIN, Y_MAX]),
        encode: { x: [0, 1], y: [2, 3] },
        renderItem: (_p: any, api: any) => {
          const p0 = api.coord([api.value(0), api.value(3)]);
          const p1 = api.coord([api.value(1), api.value(2)]);
          return { type: "rect", shape: { x: p0[0], y: p0[1], width: p1[0] - p0[0], height: p1[1] - p0[1] },
            style: { fill: REC_FILL } };
        },
      },
      {
        name: "Initial Claims", type: "scatter", z: 3, silent: true, data: claims, symbolSize: 9,
        itemStyle: { color: RED },
      },
      {
        name: "4-Week MA", type: "line", z: 4, silent: true, data: ma, showSymbol: false, clip: true,
        lineStyle: { color: BLUE, width: 8, shadowColor: "rgba(0,0,0,0.4)", shadowBlur: 14, shadowOffsetX: 8,
          shadowOffsetY: 8 },
      },
      {
        name: "Latest 4-wk MA", type: "scatter", z: 6, silent: true, data: [LATEST], symbolSize: 23,
        itemStyle: { color: RED, borderColor: "#400000", borderWidth: 1.5 },
        label: {
          show: true, position: "right", distance: 19, offset: [0, -14], formatter: () => LATEST_LABEL,
          fontFamily: ARIAL, fontWeight: "bold", fontSize: 36, color: "#000", lineHeight: 36,
          backgroundColor: "#ffff00", borderColor: "#000", borderWidth: 3, padding: [6, 12, 6, 12],
          shadowColor: "rgba(0,0,0,0.45)", shadowBlur: 8, shadowOffsetX: 6, shadowOffsetY: 6,
        },
      },
    ],
  };
}

export default function App() {
  const ref = useRef<HTMLDivElement>(null);
  useEffect(() => {
    if (!ref.current) return;
    const chart = echarts.init(ref.current, null, { renderer: "svg", width: W, height: H });
    chart.setOption(buildOption() as any);
    return () => chart.dispose();
  }, []);
  return (
    <div
      ref={ref}
      style={{ position: "fixed", left: 0, top: 0, width: W, height: H, background: "#fff" }}
    />
  );
}
